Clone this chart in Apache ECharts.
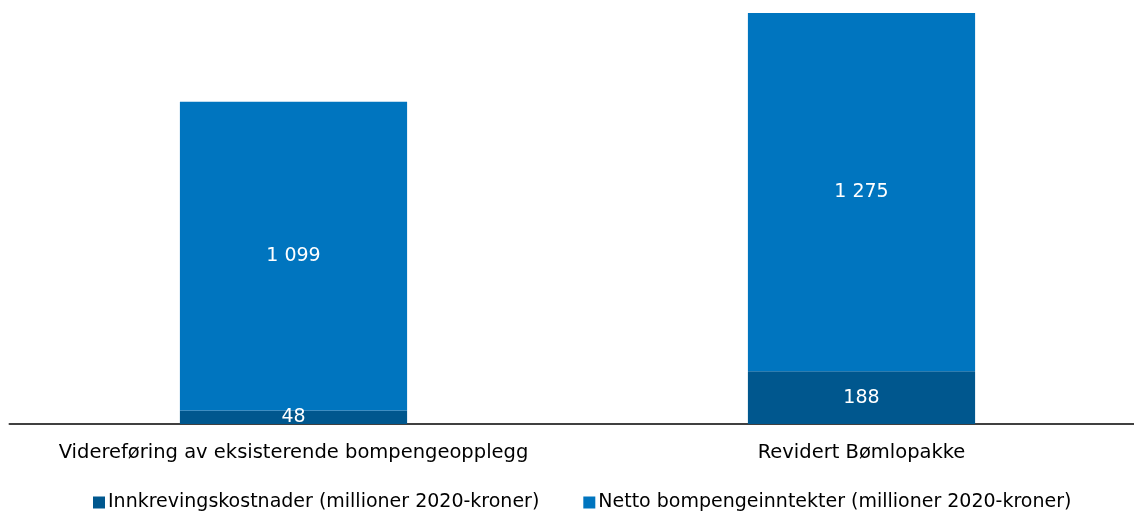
<!DOCTYPE html>
<html><head><meta charset="utf-8">
<script src="https://cdn.jsdelivr.net/npm/echarts@6/dist/echarts.min.js"></script>
<style>html,body{margin:0;padding:0;background:#fff}#c{width:1134px;height:513px}</style>
</head><body><div id="c"></div>
<script>
const categories = ['Videreføring av eksisterende bompengeopplegg', 'Revidert Bømlopakke'];
const innkreving = [48, 188];
const netto = [1099, 1275];
const seriesNames = ['Innkrevingskostnader (millioner 2020-kroner)', 'Netto bompengeinntekter (millioner 2020-kroner)'];
const fmt = v => String(v).replace(/\B(?=(\d{3})+(?!\d))/g, ' ');
const font = '"DejaVu Sans", sans-serif';
const chart = echarts.init(document.getElementById('c'));
chart.setOption({
  animation: false,
  textStyle: { fontFamily: font },
  grid: { left: 9.5, right: -11.5, top: 13, bottom: 89, containLabel: false, outerBoundsMode: 'none' },
  legend: {
    bottom: -4, left: 88, itemWidth: 12, itemHeight: 12, itemGap: 44,
    icon: 'rect',
    textStyle: { fontSize: 19, color: '#000', fontFamily: font, padding: [0, 0, 0, -2] }
  },
  xAxis: {
    type: 'category', data: categories,
    axisLine: { lineStyle: { color: '#404040', width: 2 } },
    axisTick: { show: false },
    axisLabel: { fontSize: 19.5, color: '#000', margin: 19, interval: 0, hideOverlap: false, fontFamily: font }
  },
  yAxis: { type: 'value', min: 0, max: 1463, show: false, splitLine: { show: false } },
  series: [
    { name: seriesNames[0], type: 'bar', stack: 't', data: innkreving, barWidth: '40%',
      itemStyle: { color: '#00578E' },
      label: { show: true, position: 'inside', color: '#fff', fontSize: 19, formatter: p => fmt(p.value), fontFamily: font } },
    { name: seriesNames[1], type: 'bar', stack: 't', data: netto, barWidth: '40%',
      itemStyle: { color: '#0075BF' },
      label: { show: true, position: 'inside', color: '#fff', fontSize: 19, formatter: p => fmt(p.value), fontFamily: font } }
  ]
});
</script></body></html>
